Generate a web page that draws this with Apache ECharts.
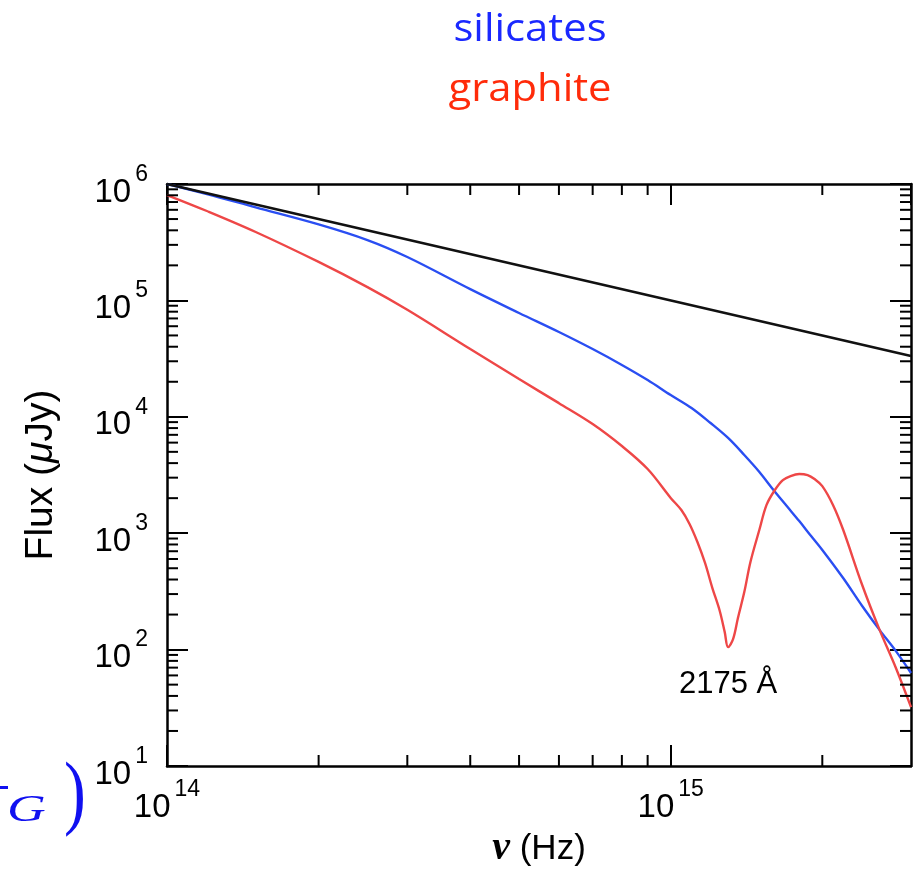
<!DOCTYPE html>
<html><head><meta charset="utf-8">
<script src="https://cdn.jsdelivr.net/npm/echarts@6/dist/echarts.min.js"></script>
<style>html,body{margin:0;padding:0;background:#fff}#c{width:913px;height:872px}</style>
</head><body><div id="c"></div>
<script>
// ---- data ----
const nuSil = [1e14,1.2e14,1.5e14,2e14,2.5e14,3e14,4e14,5e14,6e14,7e14,8e14,9e14,1e15,1.1e15,1.2e15,1.3e15,1.4e15,1.5e15,1.6e15,1.7e15,1.8e15,1.9e15,2e15,2.2e15,2.4e15,2.6e15,2.8e15,3e15];
const fluxSil = [1.0e6,8.2e5,6.3e5,4.5e5,3.3e5,2.36e5,1.25e5,7.8e4,5.35e4,3.82e4,2.79e4,2.07e4,1.54e4,1.19e4,8.84e3,6.58e3,4.70e3,3.36e3,2.35e3,1.71e3,1.27e3,946,718,412,237,147,97,63];
const nuGra = [1e14,1.2e14,1.5e14,2e14,2.5e14,3e14,4e14,5e14,6e14,7e14,8e14,9e14,1e15,1.05e15,1.09e15,1.13e15,1.17e15,1.21e15,1.25e15,1.28e15,1.3e15,1.33e15,1.36e15,1.4e15,1.44e15,1.5e15,1.55e15,1.61e15,1.67e15,1.73e15,1.8e15,1.87e15,1.93e15,2e15,2.1e15,2.2e15,2.4e15,2.6e15,2.8e15,3e15];
const fluxGra = [8.04e5,5.86e5,3.87e5,2.14e5,1.30e5,8.3e4,3.82e4,2.11e4,1.31e4,8.67e3,5.61e3,3.56e3,2.01e3,1.58e3,1.20e3,840,555,338,219,142,105,123,187,312,566,1.07e3,1.75e3,2.35e3,2.86e3,3.10e3,3.23e3,3.16e3,2.92e3,2.54e3,1.75e3,1.07e3,359,147,69.5,32];
const nuPow = [1e14, 3e15];
const fluxPow = [1e6, 3.33e4];
const xMinorTicks = [2e14,3e14,4e14,5e14,6e14,7e14,8e14,9e14,2e15];
const yMinorTicks = [20,30,40,50,60,70,80,90,200,300,400,500,600,700,800,900,2000,3000,4000,5000,6000,7000,8000,9000,20000,30000,40000,50000,60000,70000,80000,90000,200000,300000,400000,500000,600000,700000,800000,900000];
const xRange = [1e14, 3e15];
const yRange = [10, 1e6];
const seriesNames = ['silicates', 'graphite'];
const bumpLabel = '2175 Å';

const zip = (a, b) => a.map((v, i) => [v, b[i]]);
const SANS = 'Liberation Sans';

function powLabel(v) {
  const l = Math.log10(v), e = Math.round(l);
  if (Math.abs(l - e) > 1e-6) return '';
  return '{b|10}{s|' + e + '}';
}
const rich = {
  b: { fontFamily: SANS, fontSize: 33, color: '#000', lineHeight: 46, verticalAlign: 'bottom' },
  s: { fontFamily: SANS, fontSize: 23, color: '#000', lineHeight: 24, verticalAlign: 'top', padding: [0, 0, 0, 4] }
};
const frame = { show: true, lineStyle: { color: '#000', width: 2.5 } };
const majorTick = { show: true, inside: true, length: 21, lineStyle: { color: '#000', width: 2 } };

const chart = echarts.init(document.getElementById('c'), null, { renderer: 'canvas' });
chart.setOption({
  backgroundColor: '#fff',
  animation: false,
  grid: { left: 167, top: 184, right: 2, bottom: 106, containLabel: false, outerBoundsMode: 'none' },
  xAxis: [
    { type: 'log', logBase: 10, min: xRange[0], max: xRange[1], position: 'bottom',
      axisLine: frame, axisTick: majorTick, splitLine: { show: false },
      axisLabel: { margin: 12, formatter: powLabel, rich: rich, showMaxLabel: false },
      name: '{n|ν} {t|(Hz)}', nameLocation: 'middle', nameGap: 55,
      nameTextStyle: { fontFamily: SANS, fontSize: 35, color: '#000',
        rich: { n: { fontFamily: 'Liberation Serif', fontStyle: 'italic', fontWeight: 'bold', fontSize: 40, color: '#000' },
                t: { fontFamily: SANS, fontSize: 35, color: '#000' } } }
    },
    { type: 'log', logBase: 10, min: xRange[0], max: xRange[1], position: 'top',
      axisLine: frame, axisTick: majorTick, splitLine: { show: false }, axisLabel: { show: false } }
  ],
  yAxis: [
    { type: 'log', logBase: 10, min: yRange[0], max: yRange[1], position: 'left',
      axisLine: frame, axisTick: majorTick, splitLine: { show: false },
      axisLabel: { margin: 19, formatter: powLabel, rich: rich, padding: [4, 0, 0, 0] },
      name: '{t|Flux (}{m|μ}{t|Jy)}', nameLocation: 'middle', nameGap: 106, nameRotate: 90,
      nameTextStyle: { fontFamily: SANS, fontSize: 39, color: '#000',
        rich: { t: { fontFamily: SANS, fontSize: 39, color: '#000' },
                m: { fontFamily: SANS, fontStyle: 'italic', fontSize: 39, color: '#000' } } }
    },
    { type: 'log', logBase: 10, min: yRange[0], max: yRange[1], position: 'right',
      axisLine: frame, axisTick: majorTick, splitLine: { show: false }, axisLabel: { show: false } }
  ],
  graphic: [
    { type: 'text', x: 530, y: 30, scaleX: 1.1, style: { text: seriesNames[0], x: 0, y: 0, align: 'center', verticalAlign: 'middle', font: '38px "Open Sans"', fill: '#1a28ff' } },
    { type: 'text', x: 530, y: 90, scaleX: 1.1, style: { text: seriesNames[1], x: 0, y: 0, align: 'center', verticalAlign: 'middle', font: '38px "Open Sans"', fill: '#ff2b0a' } },
    { type: 'rect', shape: { x: 0, y: 786, width: 8, height: 3 }, style: { fill: '#1010f0' } },
    { type: 'text', x: 7, y: 811, scaleX: 1.45, style: { text: 'G', x: 0, y: 0, align: 'left', verticalAlign: 'middle', font: 'italic 37px "Liberation Serif"', fill: '#1010f0' } },
    { type: 'text', x: 64, y: 797, scaleX: 0.8, style: { text: ')', x: 0, y: 0, align: 'left', verticalAlign: 'middle', font: '82px "Liberation Serif"', fill: '#1010f0' } }
  ],
  series: [
    { name: seriesNames[0], type: 'line', data: zip(nuSil, fluxSil), showSymbol: false, smooth: 0.35,
      lineStyle: { color: '#2a4ef2', width: 2.4 }, z: 3 },
    { name: seriesNames[1], type: 'line', data: zip(nuGra, fluxGra), showSymbol: false, smooth: 0.35,
      lineStyle: { color: '#ee4747', width: 2.4 }, z: 4,
      markPoint: { symbol: 'circle', symbolSize: 1, itemStyle: { color: 'rgba(0,0,0,0)' },
        label: { show: true, position: 'inside', formatter: bumpLabel, fontFamily: SANS, fontSize: 31, color: '#000' },
        data: [{ coord: [1.3e15, 50] }] } },
    { name: 'power', type: 'line', data: zip(nuPow, fluxPow), showSymbol: false,
      lineStyle: { color: '#111', width: 2.6 }, z: 5 },
    { type: 'custom', silent: true, z: 6, data: xMinorTicks.map(v => [v, yRange[0]]),
      renderItem: function (params, api) {
        const b = api.coord([api.value(0), yRange[0]]);
        const t = api.coord([api.value(0), yRange[1]]);
        const st = { stroke: '#000', lineWidth: 2 };
        return { type: 'group', children: [
          { type: 'line', shape: { x1: b[0], y1: b[1], x2: b[0], y2: b[1] - 11 }, style: st },
          { type: 'line', shape: { x1: t[0], y1: t[1], x2: t[0], y2: t[1] + 11 }, style: st }
        ] };
      } },
    { type: 'custom', silent: true, z: 6, data: yMinorTicks.map(v => [xRange[0], v]),
      renderItem: function (params, api) {
        const l = api.coord([xRange[0], api.value(1)]);
        const r = api.coord([xRange[1], api.value(1)]);
        const st = { stroke: '#000', lineWidth: 2 };
        return { type: 'group', children: [
          { type: 'line', shape: { x1: l[0], y1: l[1], x2: l[0] + 11, y2: l[1] }, style: st },
          { type: 'line', shape: { x1: r[0], y1: r[1], x2: r[0] - 11, y2: r[1] }, style: st }
        ] };
      } }
  ]
});
</script></body></html>
